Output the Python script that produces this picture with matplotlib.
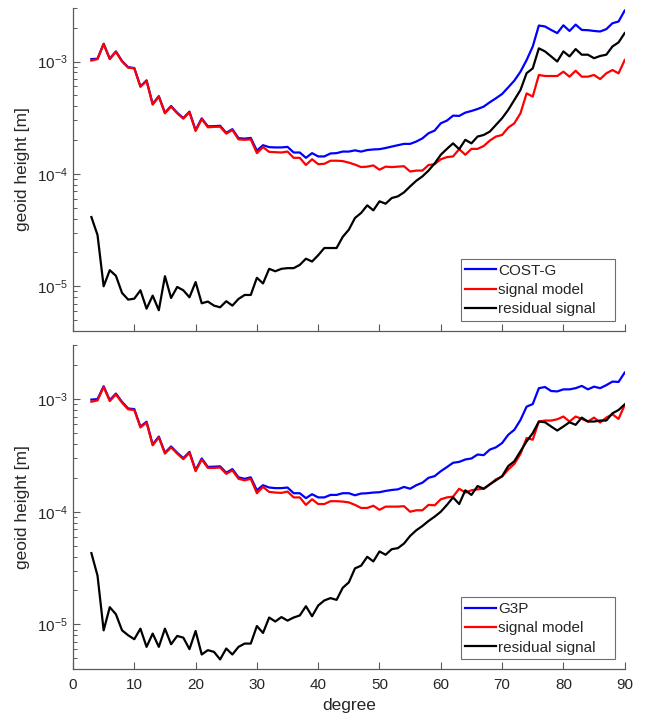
import matplotlib
matplotlib.use("Agg")
import matplotlib.pyplot as plt
from matplotlib.ticker import LogLocator, NullFormatter, LogFormatterMathtext
import numpy as np

degree = list(range(3, 91))

cost_g = [1.05e-3, 1.06e-3, 1.44e-3, 1.06e-3, 1.23e-3, 1.01e-3, 8.90e-4, 8.75e-4, 6.00e-4, 6.80e-4,
          4.20e-4, 4.92e-4, 3.50e-4, 4.02e-4, 3.50e-4, 3.14e-4, 3.58e-4, 2.45e-4, 3.12e-4, 2.65e-4,
          2.66e-4, 2.68e-4, 2.32e-4, 2.50e-4, 2.08e-4, 2.06e-4, 2.09e-4, 1.61e-4, 1.80e-4, 1.73e-4,
          1.72e-4, 1.72e-4, 1.74e-4, 1.55e-4, 1.55e-4, 1.39e-4, 1.53e-4, 1.43e-4, 1.43e-4, 1.52e-4,
          1.53e-4, 1.58e-4, 1.58e-4, 1.62e-4, 1.58e-4, 1.63e-4, 1.65e-4, 1.66e-4, 1.70e-4, 1.75e-4,
          1.80e-4, 1.85e-4, 1.85e-4, 1.94e-4, 2.07e-4, 2.30e-4, 2.43e-4, 2.82e-4, 2.98e-4, 3.30e-4,
          3.28e-4, 3.51e-4, 3.63e-4, 3.78e-4, 3.97e-4, 4.34e-4, 4.71e-4, 5.14e-4, 5.89e-4, 6.76e-4,
          8.12e-4, 1.03e-3, 1.36e-3, 2.09e-3, 2.05e-3, 1.91e-3, 1.79e-3, 2.10e-3, 1.87e-3, 2.13e-3,
          1.91e-3, 1.90e-3, 1.87e-3, 1.85e-3, 1.94e-3, 2.19e-3, 2.27e-3, 2.84e-3]

signal_top = [1.02e-3, 1.05e-3, 1.43e-3, 1.05e-3, 1.22e-3, 1.00e-3, 8.81e-4, 8.69e-4, 5.97e-4, 6.71e-4,
              4.13e-4, 4.87e-4, 3.46e-4, 3.97e-4, 3.46e-4, 3.10e-4, 3.53e-4, 2.41e-4, 3.08e-4, 2.60e-4,
              2.62e-4, 2.63e-4, 2.28e-4, 2.46e-4, 2.03e-4, 2.01e-4, 2.03e-4, 1.53e-4, 1.73e-4, 1.57e-4,
              1.56e-4, 1.55e-4, 1.58e-4, 1.39e-4, 1.39e-4, 1.20e-4, 1.35e-4, 1.22e-4, 1.23e-4, 1.31e-4,
              1.31e-4, 1.30e-4, 1.26e-4, 1.21e-4, 1.15e-4, 1.16e-4, 1.19e-4, 1.09e-4, 1.16e-4, 1.15e-4,
              1.16e-4, 1.17e-4, 1.05e-4, 1.07e-4, 1.07e-4, 1.20e-4, 1.22e-4, 1.35e-4, 1.41e-4, 1.43e-4,
              1.66e-4, 1.48e-4, 1.67e-4, 1.67e-4, 1.77e-4, 1.98e-4, 2.15e-4, 2.22e-4, 2.58e-4, 2.82e-4,
              3.46e-4, 5.21e-4, 4.87e-4, 7.59e-4, 7.43e-4, 7.43e-4, 7.43e-4, 8.12e-4, 7.33e-4, 8.28e-4,
              7.33e-4, 7.33e-4, 7.59e-4, 6.98e-4, 7.85e-4, 8.40e-4, 7.85e-4, 1.03e-3]

residual_top = [4.13e-5, 2.86e-5, 1.00e-5, 1.39e-5, 1.24e-5, 8.73e-6, 7.61e-6, 7.76e-6, 9.21e-6, 6.32e-6,
                8.26e-6, 6.12e-6, 1.23e-5, 7.87e-6, 9.86e-6, 9.21e-6, 7.98e-6, 1.09e-5, 7.06e-6, 7.31e-6,
                6.73e-6, 6.50e-6, 7.36e-6, 6.73e-6, 7.71e-6, 8.37e-6, 8.37e-6, 1.19e-5, 1.06e-5, 1.43e-5,
                1.36e-5, 1.43e-5, 1.45e-5, 1.45e-5, 1.55e-5, 1.76e-5, 1.66e-5, 1.89e-5, 2.19e-5, 2.19e-5,
                2.19e-5, 2.75e-5, 3.19e-5, 4.05e-5, 4.49e-5, 5.25e-5, 4.74e-5, 5.70e-5, 5.43e-5, 6.10e-5,
                6.31e-5, 6.85e-5, 7.74e-5, 8.69e-5, 9.50e-5, 1.07e-4, 1.24e-4, 1.48e-4, 1.67e-4, 1.87e-4,
                1.66e-4, 2.01e-4, 1.87e-4, 2.15e-4, 2.22e-4, 2.38e-4, 2.73e-4, 3.13e-4, 3.71e-4, 4.55e-4,
                5.58e-4, 7.87e-4, 8.69e-4, 1.31e-3, 1.23e-3, 1.11e-3, 1.00e-3, 1.23e-3, 1.11e-3, 1.29e-3,
                1.15e-3, 1.15e-3, 1.07e-3, 1.12e-3, 1.15e-3, 1.36e-3, 1.48e-3, 1.79e-3]

g3p = [9.90e-4, 1.00e-3, 1.30e-3, 9.80e-4, 1.12e-3, 9.45e-4, 8.25e-4, 8.15e-4, 5.70e-4, 6.30e-4,
       3.96e-4, 4.65e-4, 3.34e-4, 3.80e-4, 3.34e-4, 2.99e-4, 3.40e-4, 2.34e-4, 2.97e-4, 2.50e-4,
       2.51e-4, 2.53e-4, 2.22e-4, 2.39e-4, 2.02e-4, 1.96e-4, 2.02e-4, 1.55e-4, 1.72e-4, 1.64e-4,
       1.62e-4, 1.62e-4, 1.64e-4, 1.46e-4, 1.46e-4, 1.32e-4, 1.43e-4, 1.34e-4, 1.34e-4, 1.41e-4,
       1.41e-4, 1.46e-4, 1.46e-4, 1.40e-4, 1.45e-4, 1.46e-4, 1.48e-4, 1.49e-4, 1.53e-4, 1.56e-4,
       1.58e-4, 1.66e-4, 1.60e-4, 1.72e-4, 1.81e-4, 2.00e-4, 2.07e-4, 2.29e-4, 2.49e-4, 2.72e-4,
       2.77e-4, 2.91e-4, 2.97e-4, 3.22e-4, 3.18e-4, 3.56e-4, 3.73e-4, 4.07e-4, 4.82e-4, 5.34e-4,
       6.53e-4, 8.57e-4, 9.03e-4, 1.25e-3, 1.28e-3, 1.18e-3, 1.17e-3, 1.22e-3, 1.22e-3, 1.25e-3,
       1.31e-3, 1.22e-3, 1.29e-3, 1.25e-3, 1.33e-3, 1.43e-3, 1.42e-3, 1.72e-3]

signal_bottom = [9.48e-4, 9.73e-4, 1.28e-3, 9.60e-4, 1.10e-3, 9.29e-4, 8.11e-4, 8.00e-4, 5.60e-4, 6.19e-4,
                 3.89e-4, 4.57e-4, 3.28e-4, 3.73e-4, 3.28e-4, 2.93e-4, 3.33e-4, 2.29e-4, 2.91e-4, 2.45e-4,
                 2.45e-4, 2.47e-4, 2.17e-4, 2.33e-4, 1.96e-4, 1.90e-4, 1.96e-4, 1.46e-4, 1.66e-4, 1.50e-4,
                 1.48e-4, 1.47e-4, 1.51e-4, 1.34e-4, 1.34e-4, 1.15e-4, 1.29e-4, 1.17e-4, 1.17e-4, 1.24e-4,
                 1.24e-4, 1.23e-4, 1.21e-4, 1.15e-4, 1.08e-4, 1.08e-4, 1.13e-4, 1.04e-4, 1.11e-4, 1.11e-4,
                 1.11e-4, 1.12e-4, 1.00e-4, 1.03e-4, 1.03e-4, 1.15e-4, 1.14e-4, 1.29e-4, 1.34e-4, 1.36e-4,
                 1.60e-4, 1.48e-4, 1.55e-4, 1.58e-4, 1.60e-4, 1.75e-4, 1.94e-4, 2.05e-4, 2.37e-4, 2.66e-4,
                 3.26e-4, 4.51e-4, 4.36e-4, 6.32e-4, 6.45e-4, 6.45e-4, 6.62e-4, 7.00e-4, 6.32e-4, 7.00e-4,
                 6.67e-4, 6.32e-4, 6.85e-4, 6.19e-4, 6.85e-4, 7.33e-4, 6.67e-4, 8.85e-4]

residual_bottom = [4.29e-5, 2.71e-5, 8.85e-6, 1.42e-5, 1.23e-5, 8.85e-6, 8.00e-6, 7.38e-6, 9.16e-6, 6.31e-6,
                   8.28e-6, 6.31e-6, 9.16e-6, 6.66e-6, 7.89e-6, 7.62e-6, 6.02e-6, 8.73e-6, 5.40e-6, 5.90e-6,
                   5.70e-6, 4.88e-6, 6.10e-6, 5.40e-6, 6.31e-6, 6.75e-6, 6.75e-6, 9.66e-6, 8.39e-6, 1.15e-5,
                   1.06e-5, 1.16e-5, 1.08e-5, 1.15e-5, 1.20e-5, 1.45e-5, 1.18e-5, 1.47e-5, 1.63e-5, 1.71e-5,
                   1.65e-5, 2.11e-5, 2.36e-5, 3.14e-5, 3.32e-5, 3.98e-5, 3.62e-5, 4.44e-5, 4.15e-5, 4.65e-5,
                   4.75e-5, 5.22e-5, 6.10e-5, 6.84e-5, 7.47e-5, 8.28e-5, 9.04e-5, 1.00e-4, 1.15e-4, 1.34e-4,
                   1.17e-4, 1.55e-4, 1.41e-4, 1.69e-4, 1.60e-4, 1.75e-4, 1.90e-4, 2.07e-4, 2.54e-4, 2.81e-4,
                   3.44e-4, 4.21e-4, 4.99e-4, 6.32e-4, 6.23e-4, 5.71e-4, 5.26e-4, 5.71e-4, 6.23e-4, 5.91e-4,
                   6.85e-4, 6.32e-4, 6.32e-4, 6.45e-4, 6.45e-4, 7.48e-4, 8.00e-4, 8.97e-4]

x_ticks = [0, 10, 20, 30, 40, 50, 60, 70, 80, 90]
y_limits = (4e-6, 3e-3)

plt.rcParams['font.family'] = ['Liberation Sans', 'DejaVu Sans']
plt.rcParams['mathtext.fontset'] = 'custom'
plt.rcParams['mathtext.rm'] = 'Liberation Sans'
plt.rcParams['mathtext.it'] = 'Liberation Sans'

fig = plt.figure(figsize=(6.46, 7.18), dpi=100)
ax1 = fig.add_axes([0.113, 0.539, 0.854, 0.450])
ax2 = fig.add_axes([0.113, 0.068, 0.854, 0.451])

axis_col = '#5a5a5a'
text_col = '#262626'

panels = [
    (ax1, cost_g, signal_top, residual_top, 'COST-G', False),
    (ax2, g3p, signal_bottom, residual_bottom, 'G3P', True),
]

for ax, first, sig, res, name, show_x in panels:
    ax.plot(degree, first, color='#0000ff', lw=1.6, label=name)
    ax.plot(degree, sig, color='#ff0000', lw=1.6, label='signal model')
    ax.plot(degree, res, color='#000000', lw=1.6, label='residual signal')
    ax.set_yscale('log')
    ax.set_ylim(*y_limits)
    ax.set_xlim(0, 90)
    ax.set_xticks(x_ticks)
    ax.yaxis.set_major_locator(LogLocator(base=10, numticks=10))
    ax.yaxis.set_minor_locator(LogLocator(base=10, subs=np.arange(2, 10), numticks=20))
    ax.yaxis.set_minor_formatter(NullFormatter())
    ax.yaxis.set_major_formatter(LogFormatterMathtext())
    for s in ['top', 'right']:
        ax.spines[s].set_visible(False)
    for s in ['left', 'bottom']:
        ax.spines[s].set_color(axis_col)
        ax.spines[s].set_linewidth(0.9)
    ax.tick_params(which='major', direction='in', length=5, width=0.8, color=axis_col,
                   labelsize=11, labelcolor=text_col)
    ax.tick_params(which='minor', direction='in', length=3, width=0.7, color=axis_col)
    ax.tick_params(axis='x', labelbottom=show_x, pad=6)
    ax.set_ylabel('geoid height [m]', fontsize=12.5, color=text_col, labelpad=5)
    leg = ax.legend(loc='lower left', bbox_to_anchor=(0.703, 0.031, 0.279, 0.0), mode='expand',
                    fontsize=11, handlelength=2.0, handletextpad=0.15, borderpad=0.3,
                    labelspacing=0.35, fancybox=False, framealpha=1.0, borderaxespad=0.0)
    leg.get_frame().set_edgecolor('#6e6e6e')
    leg.get_frame().set_linewidth(0.8)
    for t in leg.get_texts():
        t.set_color(text_col)

ax2.set_xlabel('degree', fontsize=12.5, color=text_col, labelpad=5)

fig.savefig('out.png', dpi=100)
